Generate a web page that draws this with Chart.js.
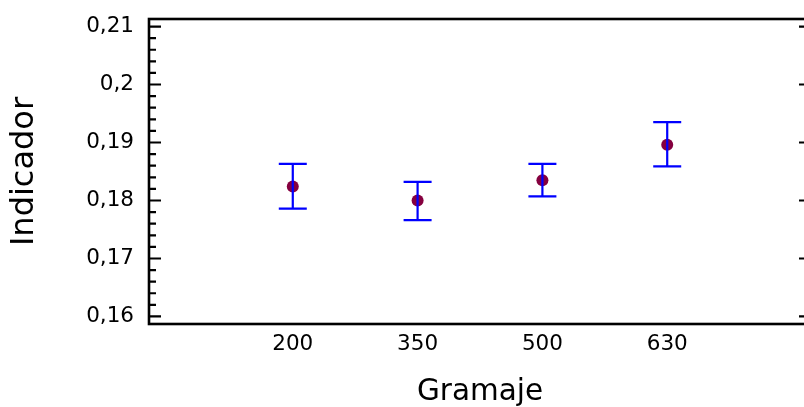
<!DOCTYPE html>
<html>
<head>
<meta charset="utf-8">
<script src="https://cdn.jsdelivr.net/npm/chart.js@4.4.1/dist/chart.umd.min.js"></script>
<style>
  html, body { margin: 0; padding: 0; overflow: hidden; background: #fff; }
  #wrap { width: 820px; height: 407px; }
</style>
</head>
<body>
<div id="wrap"><canvas id="chart" width="820" height="407"></canvas></div>
<script>
var categories = ['200', '350', '500', '630'];
var means = [0.1824, 0.1800, 0.1835, 0.1896];
var lower = [0.1786, 0.1766, 0.1807, 0.1859];
var upper = [0.1863, 0.1832, 0.1863, 0.1935];
var yMajorTicks = [0.16, 0.17, 0.18, 0.19, 0.20, 0.21];
var minorPerMajor = 5;

var fontFamily = '"DejaVu Sans", Verdana, sans-serif';

function fmt(v) {
  return String(Math.round(v * 100) / 100).replace('.', ',');
}

// major + minor ticks for the value axis
var yTickValues = [];
for (var i = 0; i < yMajorTicks.length; i++) {
  yTickValues.push({ value: yMajorTicks[i], major: true });
  if (i < yMajorTicks.length - 1) {
    var step = (yMajorTicks[i + 1] - yMajorTicks[i]) / minorPerMajor;
    for (var k = 1; k < minorPerMajor; k++) {
      yTickValues.push({ value: yMajorTicks[i] + k * step, major: false });
    }
  }
}

var points = [];
for (var j = 0; j < categories.length; j++) {
  points.push({ x: j + 1, y: means[j] });
}

// error bars, box frame and inward ticks
var framePlugin = {
  id: 'frame',
  afterDatasetsDraw: function (chart) {
    var ctx = chart.ctx;
    var a = chart.chartArea;
    var xs = chart.scales.x;
    var ys = chart.scales.y;
    ctx.save();

    ctx.strokeStyle = '#0000ff';
    ctx.lineWidth = 2.2;
    for (var i = 0; i < categories.length; i++) {
      var px = xs.getPixelForValue(i + 1);
      var lo = ys.getPixelForValue(lower[i]);
      var hi = ys.getPixelForValue(upper[i]);
      ctx.beginPath();
      ctx.moveTo(px, lo);
      ctx.lineTo(px, hi);
      ctx.moveTo(px - 14, lo);
      ctx.lineTo(px + 14, lo);
      ctx.moveTo(px - 14, hi);
      ctx.lineTo(px + 14, hi);
      ctx.stroke();
    }

    ctx.strokeStyle = '#000';
    ctx.lineWidth = 2.6;
    ctx.strokeRect(a.left, a.top, a.right - a.left, a.bottom - a.top);

    ctx.lineWidth = 2.2;
    ctx.beginPath();
    ys.ticks.forEach(function (t) {
      var py = ys.getPixelForValue(t.value);
      var len = t.major ? 12 : 7;
      ctx.moveTo(a.left, py);
      ctx.lineTo(a.left + len, py);
      ctx.moveTo(a.right, py);
      ctx.lineTo(a.right - len, py);
    });
    ctx.stroke();
    ctx.restore();
  }
};

new Chart(document.getElementById('chart').getContext('2d'), {
  type: 'scatter',
  data: {
    datasets: [{
      data: points,
      pointRadius: 6,
      pointHoverRadius: 6,
      backgroundColor: '#85003f',
      borderWidth: 0,
      showLine: false
    }]
  },
  options: {
    responsive: false,
    animation: false,
    events: [],
    layout: { padding: { top: 19, right: 9, bottom: 0, left: 0 } },
    plugins: {
      legend: { display: false },
      tooltip: { enabled: false }
    },
    scales: {
      x: {
        type: 'linear',
        min: -0.152,
        max: 5.152,
        afterBuildTicks: function (scale) {
          scale.ticks = categories.map(function (c, i) { return { value: i + 1 }; });
        },
        afterFit: function (scale) {
          scale.height = 83;
          scale.paddingLeft = 0;
          scale.paddingRight = 0;
        },
        grid: { display: false, drawTicks: false },
        border: { display: false },
        ticks: {
          autoSkip: false,
          maxRotation: 0,
          padding: 8,
          color: '#000',
          font: { family: fontFamily, size: 21.5 },
          callback: function (value, index) { return categories[index]; }
        },
        title: {
          display: true,
          text: 'Gramaje',
          color: '#000',
          font: { family: fontFamily, size: 29.5, lineHeight: 1 },
          padding: { top: 0, bottom: 0 }
        }
      },
      y: {
        type: 'linear',
        min: 0.1587,
        max: 0.2113,
        afterBuildTicks: function (scale) {
          scale.ticks = yTickValues.map(function (t) { return { value: t.value, major: t.major }; });
        },
        afterFit: function (scale) {
          scale.width = 149;
          scale.paddingTop = 0;
          scale.paddingBottom = 0;
        },
        grid: { display: false, drawTicks: false },
        border: { display: false },
        ticks: {
          autoSkip: false,
          padding: 15,
          color: '#000',
          font: { family: fontFamily, size: 21.5 },
          callback: function (value, index, ticks) {
            return ticks[index].major ? fmt(value) : '';
          }
        },
        title: {
          display: true,
          text: 'Indicador',
          color: '#000',
          font: { family: fontFamily, size: 32, lineHeight: 1 },
          padding: { top: 9, bottom: 0 }
        }
      }
    }
  },
  plugins: [framePlugin]
});
</script>
</body>
</html>
